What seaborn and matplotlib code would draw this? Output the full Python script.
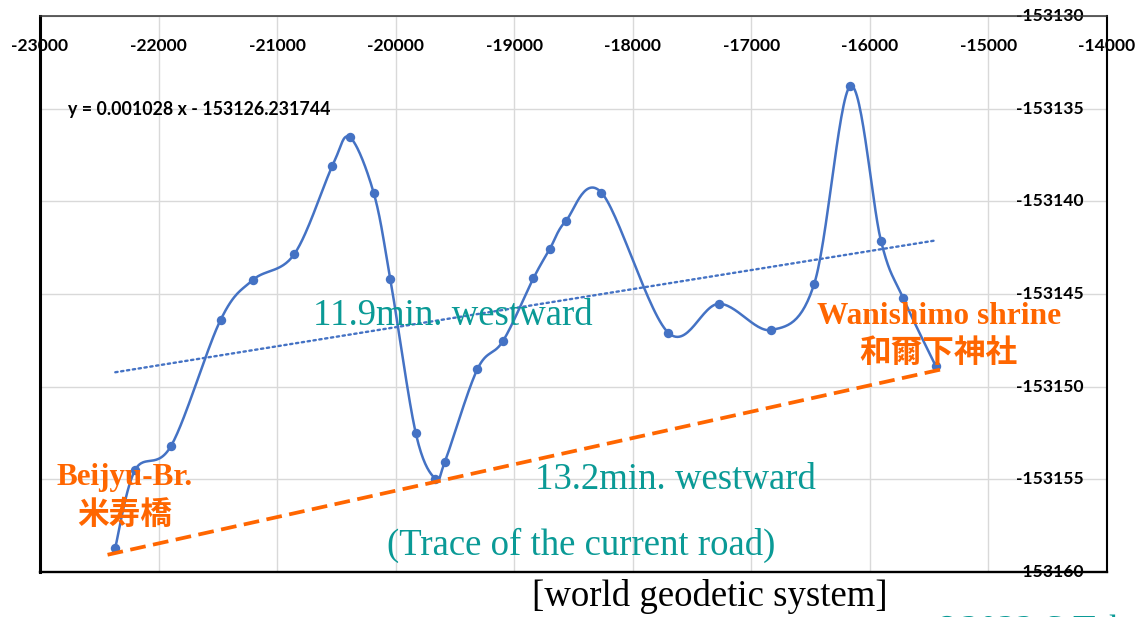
import numpy as np
import pandas as pd
import matplotlib
matplotlib.use("Agg")
import matplotlib.pyplot as plt
import seaborn as sns

# Survey points along the old road (easting / northing, world geodetic system)
pt_x = [-22365, -22197, -21893, -21477, -21204, -20855, -20534, -20388, -20186,
        -20045, -19831, -19665, -19584, -19311, -19094, -18838, -18700, -18565,
        -18264, -17702, -17274, -16830, -16470, -16165, -15907, -15719, -15445]
pt_y = [-153158.68, -153154.49, -153153.18, -153146.40, -153144.24, -153142.85,
        -153138.09, -153136.54, -153139.53, -153144.20, -153152.49, -153154.97,
        -153154.04, -153149.06, -153147.53, -153144.15, -153142.57, -153141.06,
        -153139.53, -153147.08, -153145.53, -153146.94, -153144.46, -153133.78,
        -153142.12, -153145.23, -153148.88]

# Linear trend of the survey points
trend_slope = 0.001028
trend_intercept = -153126.231744

# Alignment of the current road (end points)
road_x = [-22430, -15370]
road_y = [-153159.07, -153149.03]

x_ticks = [-23000, -22000, -21000, -20000, -19000, -18000, -17000, -16000, -15000, -14000]
y_ticks = [-153160, -153155, -153150, -153145, -153140, -153135, -153130]
x_tick_labels = [str(v) for v in x_ticks]
y_tick_labels = [str(v) for v in y_ticks]

BLUE = "#4472C4"
ORANGE = "#FF6600"
TEAL = "#0A9A96"
SERIF = "Liberation Serif"
CJK = "Noto Sans CJK JP"


def smooth_path(xs, ys, sx, sy, n=30):
    """Cubic Bezier through the points (Catmull-Rom tangents), computed in screen-like units."""
    P = np.column_stack([np.asarray(xs, float) * sx, np.asarray(ys, float) * sy])
    ext = np.vstack([P[0], P, P[-1]])
    segs = []
    for i in range(len(P) - 1):
        p0, p1, p2, p3 = ext[i], ext[i + 1], ext[i + 2], ext[i + 3]
        c1 = p1 + (p2 - p0) / 6.0
        c2 = p2 - (p3 - p1) / 6.0
        t = np.linspace(0, 1, n, endpoint=(i == len(P) - 2))[:, None]
        segs.append((1 - t) ** 3 * p1 + 3 * (1 - t) ** 2 * t * c1
                    + 3 * (1 - t) * t ** 2 * c2 + t ** 3 * p2)
    out = np.vstack(segs)
    return out[:, 0] / sx, out[:, 1] / sy


sns.set_style("white")
plt.rcParams["font.family"] = ["Lato", CJK, "DejaVu Sans"]

W, H = 1147, 617
fig = plt.figure(figsize=(W / 100, H / 100), dpi=100)
ax = fig.add_axes([40 / W, 45 / H, 1067 / W, 556 / H])

x_min, x_max = x_ticks[0], x_ticks[-1]
y_min, y_max = y_ticks[0], y_ticks[-1]

# smooth survey line
sx = 1067 / (x_max - x_min)
sy = 556 / (y_max - y_min)
cx, cy = smooth_path(pt_x, pt_y, sx, sy)
curve = pd.DataFrame({"x": cx, "y": cy})
sns.lineplot(data=curve, x="x", y="y", sort=False, estimator=None,
             color=BLUE, lw=1.8, ax=ax, zorder=4)
pts = pd.DataFrame({"x": pt_x, "y": pt_y})
sns.scatterplot(data=pts, x="x", y="y", color=BLUE, s=46, edgecolor=BLUE,
                linewidth=0, ax=ax, zorder=5)

# linear trend
tx = np.array([min(pt_x), max(pt_x)], float)
trend = pd.DataFrame({"x": tx, "y": trend_slope * tx + trend_intercept})
sns.lineplot(data=trend, x="x", y="y", color=BLUE, lw=1.7, ax=ax, zorder=3,
             linestyle=(0, (1.0, 1.5)), dash_capstyle="round")

# current road
road = pd.DataFrame({"x": road_x, "y": road_y})
sns.lineplot(data=road, x="x", y="y", color=ORANGE, lw=2.7, ax=ax, zorder=6,
             linestyle=(0, (4.2, 2.0)))

ax.set_xlim(x_min, x_max)
ax.set_ylim(y_min, y_max)
ax.set_xticks(x_ticks)
ax.set_xticklabels(x_tick_labels)
ax.set_yticks(y_ticks)
ax.set_yticklabels(y_tick_labels)
ax.set_xlabel("")
ax.set_ylabel("")
ax.grid(True, color="#D9D9D9", lw=1.0, zorder=0)
ax.set_axisbelow(True)

ax.tick_params(axis="x", bottom=False, labelbottom=False, top=True, labeltop=True,
               length=0, pad=-27.5)
ax.tick_params(axis="y", left=False, labelleft=False, right=True, labelright=True,
               length=0, pad=-17)
for lab in ax.get_xticklabels():
    lab.set_fontweight("bold")
    lab.set_fontsize(12.6)
    lab.set_color("black")
for lab in ax.get_yticklabels():
    lab.set_fontweight("bold")
    lab.set_fontsize(12.6)
    lab.set_color("black")
    lab.set_ha("right")
    lab.set_va("center")

ax.spines["top"].set_color("#333333")
ax.spines["top"].set_linewidth(1.1)
ax.spines["left"].set_color("black")
ax.spines["left"].set_linewidth(2.2)
ax.spines["bottom"].set_color("black")
ax.spines["bottom"].set_linewidth(1.7)
ax.spines["right"].set_color("black")
ax.spines["right"].set_linewidth(1.5)

# trend equation
fig.text(68 / W, 1 - 115 / H, "y = 0.001028 x - 153126.231744", fontsize=12.8,
         fontweight="bold", color="black", ha="left", va="baseline")

# annotations
fig.text(452.5 / W, 1 - 325 / H, "11.9min. westward", fontsize=26.5, family=SERIF,
         color=TEAL, ha="center", va="baseline", zorder=7)
fig.text(675.5 / W, 1 - 489 / H, "13.2min. westward", fontsize=26.5, family=SERIF,
         color=TEAL, ha="center", va="baseline", zorder=7)
fig.text(581 / W, 1 - 555 / H, "(Trace of the current road)", fontsize=26.5, family=SERIF,
         color=TEAL, ha="center", va="baseline", zorder=7)
fig.text(710 / W, 1 - 606 / H, "[world geodetic system]", fontsize=26.5, family=SERIF,
         color="black", ha="center", va="baseline")
fig.text(933 / W, 1 - 641 / H, "©2022 S.Takeuchi", fontsize=26.5, family=SERIF,
         color=TEAL, ha="left", va="baseline")

fig.text(939 / W, 1 - 324 / H, "Wanishimo shrine", fontsize=22.6, family=SERIF,
         fontweight="bold", color=ORANGE, ha="center", va="baseline", zorder=7)
fig.text(938.5 / W, 1 - 353 / H, "和爾下神社", fontsize=22.8, family=[CJK, "DejaVu Sans"],
         fontweight="bold", color=ORANGE, ha="center", va="center", zorder=7)
fig.text(125 / W, 1 - 485 / H, "Beijyu-Br.", fontsize=22.4, family=SERIF,
         fontweight="bold", color=ORANGE, ha="center", va="baseline", zorder=7)
fig.text(124.5 / W, 1 - 515 / H, "米寿橋", fontsize=22.8, family=[CJK, "DejaVu Sans"],
         fontweight="bold", color=ORANGE, ha="center", va="center", zorder=7)

fig.savefig("out.png", dpi=100)
